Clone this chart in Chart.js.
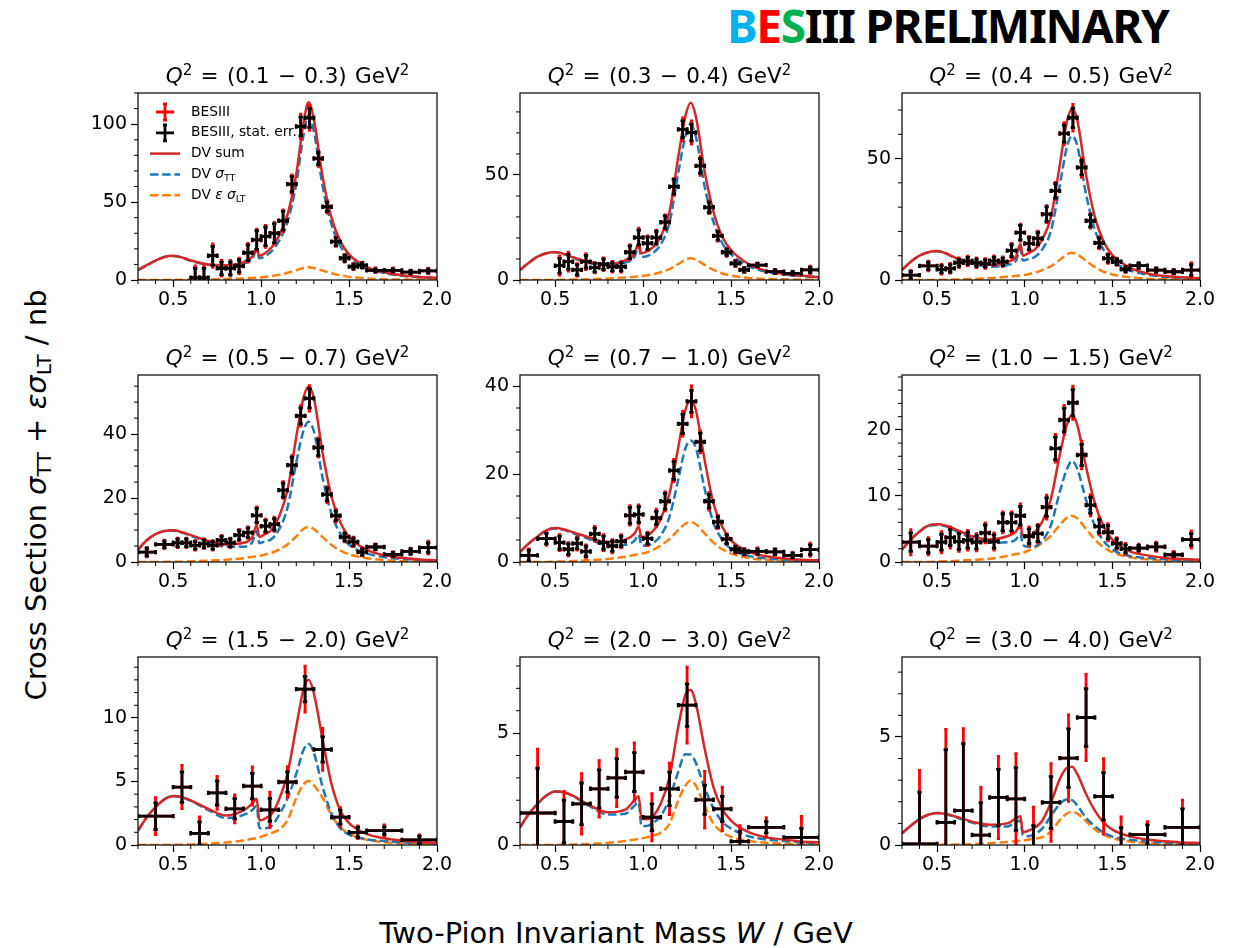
<!DOCTYPE html>
<html>
<head>
<meta charset="utf-8">
<script src="https://cdn.jsdelivr.net/npm/chart.js@4.4.1/dist/chart.umd.min.js"></script>
<style>
  body { margin: 0; background: #fff; width: 1245px; height: 948px; position: relative; overflow: hidden; font-family: 'DejaVu Sans', sans-serif; color: #000; }
  canvas.panel { position: absolute; }
  .ptitle { position: absolute; font-size: 21.5px; word-spacing: 1.5px; line-height: 30px; height: 30px; text-align: center; white-space: nowrap; transform: translateX(-50%); }
  .ptitle sup { font-size: 0.7em; line-height: 0; vertical-align: 0.55em; }
  #logo { position: absolute; left: 727px; top: 0px; font-family: 'Noto Sans', sans-serif; font-weight: bold; font-size: 46px; line-height: 50px; white-space: nowrap; letter-spacing: -1.3px; }
  #ylabel { position: absolute; left: 36px; top: 495px; font-size: 29px; white-space: nowrap; transform: translate(-50%, -50%) rotate(-90deg); }
  #xlabel { position: absolute; left: 616px; top: 933px; font-size: 29px; white-space: nowrap; transform: translate(-50%, -50%); }
  sub { font-size: 0.7em; line-height: 0; vertical-align: -0.25em; }
</style>
</head>
<body>
<div id="logo"><span style="color:#00b0f0">B</span><span style="color:#ff0000">E</span><span style="color:#00b050">S</span>III PRELIMINARY</div>
<div id="ylabel">Cross Section <i>σ</i><sub>TT</sub> + <i>εσ</i><sub>LT</sub> / nb</div>
<div id="xlabel">Two-Pion Invariant Mass <i>W</i> / GeV</div>
<script>
// Q^2 bins (GeV^2), one per panel
const q2Labels = ['0.1 − 0.3', '0.3 − 0.4', '0.4 − 0.5', '0.5 − 0.7', '0.7 − 1.0', '1.0 − 1.5', '1.5 − 2.0', '2.0 − 3.0', '3.0 − 4.0'];

// W bin centres / half widths
const wFine = [0.35, 0.45, 0.525, 0.575, 0.625, 0.675, 0.725, 0.775, 0.825, 0.875, 0.925, 0.975, 1.025, 1.075, 1.125, 1.175, 1.225, 1.275, 1.325, 1.375, 1.425, 1.475, 1.525, 1.575, 1.65, 1.75, 1.85, 1.95];
const hwFine = [0.05, 0.05, 0.025, 0.025, 0.025, 0.025, 0.025, 0.025, 0.025, 0.025, 0.025, 0.025, 0.025, 0.025, 0.025, 0.025, 0.025, 0.025, 0.025, 0.025, 0.025, 0.025, 0.025, 0.025, 0.05, 0.05, 0.05, 0.05];
const wCoarse = [0.4, 0.55, 0.65, 0.75, 0.85, 0.95, 1.05, 1.15, 1.25, 1.35, 1.45, 1.55, 1.7, 1.9];
const hwCoarse = [0.1, 0.05, 0.05, 0.05, 0.05, 0.05, 0.05, 0.05, 0.05, 0.05, 0.05, 0.05, 0.1, 0.1];

// measured cross sections (nb), stat. and total errors
const v1 = [1.5, 1.5, 15.6, 7.5, 7.5, 9, 17.5, 25.7, 28, 30, 38, 61.5, 98.5, 104, 78, 47, 24.6, 14, 8.6, 9.4, 6.2, 6.2, 5.1, 5.8];
const stat1 = [6, 6, 6, 4, 4, 4, 5, 6, 6, 6, 6, 5, 6, 6, 4, 3, 2.5, 2, 1.5, 1.5, 1, 1, 1, 1.2];
const tot1 = [7.5, 7.5, 7.5, 5, 5, 5, 6, 7, 7, 7, 7, 6, 8, 8, 5, 4, 3, 2.5, 2, 2, 1.5, 1.5, 1.3, 1.8];

const v2 = [6.8, 8.7, 4.8, 8.7, 5.9, 7.5, 6.3, 6.3, 13.2, 20.2, 17.5, 20.2, 27.5, 44.4, 71.7, 70.2, 54.3, 34.6, 21, 13.2, 7.9, 4.8, 7.1, 4, 3.2, 4.8];
const stat2 = [3.5, 3.5, 2.5, 3, 2, 2.5, 2, 2, 3, 3.5, 3, 3, 3, 3.5, 4, 4, 3.5, 2.5, 2, 1.5, 1.2, 1, 0.8, 0.8, 0.8, 1.3];
const tot2 = [4.5, 4.5, 3, 3.8, 2.5, 3, 2.5, 2.5, 3.5, 4.5, 3.5, 3.5, 3.5, 4, 5.5, 5.5, 4.5, 3, 2.5, 2, 1.5, 1.2, 1, 1, 1, 1.8];

const v3 = [2.0, 5.8, 4.4, 4.8, 7.1, 7.8, 7.1, 6.8, 7.9, 7.5, 12.1, 19.5, 15, 17.1, 27.1, 36.7, 60.3, 66.8, 46.3, 24.4, 15.3, 8.9, 7.5, 4.4, 5.9, 4.1, 3.4, 4.1];
const stat3 = [1.5, 1.5, 1.5, 1.5, 1.5, 1.5, 1.5, 1.5, 1.5, 1.5, 2.5, 3, 2.5, 2.5, 3, 3, 3.5, 4, 3, 2.5, 2, 1.5, 1.2, 1, 1, 0.8, 0.8, 2.2];
const tot3 = [2, 2, 2, 2, 2, 2, 2, 2, 2, 2, 3, 3.5, 3, 3, 3.5, 3.5, 4.5, 5.5, 4, 3, 2.5, 2, 1.5, 1.2, 1.2, 1, 1, 3];

const v4 = [3.1, 5.5, 6.0, 6.0, 5.2, 5.7, 5.2, 6.8, 6.0, 8.4, 9.2, 14.6, 11.2, 11.8, 22.5, 30.3, 45.7, 51.2, 35.8, 21.1, 14.5, 7.8, 6.3, 3.1, 4.7, 2.4, 3.3, 4.5];
const stat4 = [1.2, 1, 1.2, 1.2, 1.2, 1.2, 1.2, 1.2, 1.2, 1.5, 1.5, 2.2, 1.8, 1.8, 2.2, 2.5, 2.5, 3, 2.5, 2, 1.5, 1.2, 1.2, 1, 0.8, 0.6, 0.8, 1.5];
const tot4 = [1.5, 1.3, 1.5, 1.5, 1.5, 1.5, 1.5, 1.5, 1.5, 1.8, 1.8, 2.6, 2.2, 2.2, 2.6, 3, 3.2, 4, 3, 2.5, 2, 1.5, 1.5, 1.2, 1, 0.8, 1, 2];

const v5 = [1.5, 5.3, 4.4, 2.9, 4.2, 2.4, 6.4, 4.4, 3.6, 4.7, 10.6, 10.8, 5.3, 10, 13.8, 20.8, 31.4, 36.5, 27.3, 13.8, 9.1, 5.2, 2.9, 2.3, 2.4, 2.3, 1.5, 2.8];
const stat5 = [1.2, 1.2, 1.5, 1.2, 1.2, 1.2, 1.3, 1.5, 1.2, 1.2, 1.8, 1.8, 1.2, 1.5, 1.8, 2, 2.2, 2.5, 2, 1.5, 1.2, 1, 0.7, 0.6, 0.6, 0.6, 0.5, 1.1];
const tot5 = [1.5, 1.5, 1.8, 1.5, 1.5, 1.5, 1.7, 1.8, 1.5, 1.5, 2.2, 2.2, 1.5, 2, 2.2, 2.5, 2.8, 3.5, 2.5, 2, 1.5, 1.2, 0.9, 0.8, 0.8, 0.7, 0.7, 1.5];

const v6 = [3.0, 2.4, 3.0, 3.7, 3.1, 3.3, 3.0, 4.4, 3.1, 6.0, 6.0, 7.0, 3.9, 4.3, 8.3, 17.2, 21.5, 24.1, 16.2, 8.6, 5.4, 4.5, 2.8, 2.0, 2.1, 2.3, 1.1, 3.4];
const stat6 = [1.4, 1, 1.2, 1.2, 1.2, 1.2, 1, 1.2, 1, 1.3, 1.3, 1.4, 1.1, 1.2, 1.4, 1.7, 1.8, 2, 1.6, 1.2, 1, 1, 0.7, 0.6, 0.4, 0.5, 0.3, 0.9];
const tot6 = [1.9, 1.3, 1.6, 1.6, 1.5, 1.5, 1.3, 1.5, 1.3, 1.6, 1.6, 1.8, 1.4, 1.4, 1.8, 2.1, 2.2, 2.5, 2.1, 1.6, 1.3, 1.3, 0.9, 0.8, 0.6, 0.7, 0.5, 1.3];

const v7 = [2.27, 4.56, 0.92, 4.1, 2.85, 4.64, 2.77, 4.96, 12.27, 7.52, 2.19, 1.0, 1.13, 0.4];
const stat7 = [1.05, 1.2, 0.9, 0.95, 0.8, 1.0, 0.9, 0.8, 1.0, 1.0, 0.55, 0.4, 0.3, 0.3];
const tot7 = [1.45, 1.7, 1.3, 1.3, 1.1, 1.5, 1.4, 1.2, 1.8, 1.65, 0.75, 0.5, 0.45, 0.4];

const v8 = [1.43, 1.05, 1.84, 2.51, 3.0, 3.26, 1.24, 2.51, 6.25, 2.02, 1.61, 0.16, 0.79, 0.34];
const stat8 = [2.0, 0.95, 0.93, 0.85, 0.86, 0.87, 0.6, 0.75, 0.95, 0.65, 0.56, 0.45, 0.25, 0.4];
const tot8 = [2.85, 1.35, 1.35, 1.26, 1.28, 1.3, 1.05, 1.15, 1.7, 1.27, 0.98, 0.7, 0.43, 0.94];

const v9 = [0.05, 1.05, 1.59, 0.46, 2.20, 2.13, -0.2, 1.97, 4.02, 5.9, 2.25, -0.2, 0.48, 0.82];
const stat9 = [2.4, 3.36, 3.1, 1.5, 1.3, 1.45, 1.1, 1.2, 1.35, 1.34, 1.1, 1.0, 0.45, 0.85];
const tot9 = [3.4, 4.3, 3.8, 2.2, 1.9, 2.1, 1.95, 1.8, 2.0, 2.0, 1.75, 1.5, 0.6, 1.25];

// DV model curves, read at these W values
const curveW = [0.30, 0.35, 0.40, 0.45, 0.50, 0.55, 0.60, 0.70, 0.80, 0.90, 0.95, 0.975, 0.99, 1.02, 1.06, 1.10, 1.15, 1.20, 1.24, 1.27, 1.30, 1.35, 1.40, 1.45, 1.50, 1.60, 1.70, 1.80, 1.90, 2.00];

const sum1 = [6.4, 9.5, 12.5, 14.8, 15.5, 14.5, 12.5, 10.0, 9.5, 11.5, 15.0, 20.5, 15.5, 17.0, 21.0, 28.0, 42, 68, 100, 114, 103, 66, 40, 25, 16.5, 8.5, 5.0, 3.0, 2.0, 1.5];
const tt1 = [6.4, 9.5, 12.5, 14.8, 15.4, 14.4, 12.3, 9.7, 8.9, 10.5, 13.7, 19.0, 13.9, 15.1, 18.5, 24.7, 37.4, 61.7, 92.3, 105.8, 95.3, 60, 35.7, 22, 14.5, 7.5, 4.5, 2.7, 1.8, 1.4];
const lt1 = [0, 0, 0, 0, 0.1, 0.1, 0.2, 0.3, 0.6, 1.0, 1.3, 1.5, 1.6, 1.9, 2.5, 3.3, 4.6, 6.3, 7.7, 8.2, 7.7, 6.0, 4.3, 3.0, 2.0, 1.0, 0.5, 0.3, 0.2, 0.1];

const sum2 = [4.8, 8.2, 11.1, 12.7, 13.3, 12.4, 10.8, 8.3, 7.6, 9.5, 12.4, 17.5, 12.7, 13.5, 15.9, 20.6, 32.5, 58.7, 77.8, 84.4, 77.8, 51.6, 32.5, 20.6, 14.3, 7.6, 4.4, 2.9, 2.1, 1.3];
const tt2 = [4.8, 8.2, 11.1, 12.7, 13.2, 12.3, 10.6, 7.9, 6.9, 8.3, 10.9, 15.8, 10.9, 11.3, 13.1, 16.9, 27.3, 51.1, 68.2, 74.1, 68.2, 44.4, 27.7, 17.5, 12.2, 6.6, 3.9, 2.6, 1.9, 1.2];
const lt2 = [0, 0, 0, 0, 0.1, 0.1, 0.2, 0.4, 0.7, 1.2, 1.5, 1.7, 1.8, 2.2, 2.8, 3.7, 5.2, 7.6, 9.6, 10.3, 9.6, 7.2, 4.8, 3.1, 2.1, 1.0, 0.5, 0.3, 0.2, 0.1];

const sum3 = [4.1, 7.5, 10, 11.4, 11.9, 11, 9.3, 7.1, 6.3, 7.5, 9.6, 14.8, 10, 11, 12.7, 16.7, 26, 47.3, 65, 70.5, 65.8, 43.2, 26, 15.8, 10.3, 5.1, 2.7, 1.6, 1.1, 0.7];
const tt3 = [4.1, 7.5, 10, 11.4, 11.8, 10.9, 9.1, 6.7, 5.5, 6.2, 7.9, 12.9, 8.0, 8.6, 9.6, 12.6, 20.3, 39.0, 54.5, 59.3, 55.3, 35.3, 20.7, 12.4, 8.0, 4.0, 2.2, 1.3, 0.9, 0.6];
const lt3 = [0, 0, 0, 0, 0.1, 0.1, 0.2, 0.4, 0.8, 1.3, 1.7, 1.9, 2.0, 2.4, 3.1, 4.1, 5.7, 8.3, 10.5, 11.2, 10.5, 7.9, 5.3, 3.4, 2.3, 1.1, 0.5, 0.3, 0.2, 0.1];

const sum4 = [3.9, 6.8, 8.7, 9.7, 9.9, 9.3, 8.4, 6.6, 5.5, 6.0, 7.8, 11.5, 7.8, 8.7, 10.1, 13.9, 22.5, 39.2, 51.2, 54.9, 51.2, 34, 20.4, 12.5, 7.8, 3.9, 2.1, 1.3, 0.8, 0.5];
const tt4 = [3.9, 6.8, 8.7, 9.7, 9.8, 9.2, 8.2, 6.2, 4.8, 4.8, 6.2, 9.7, 5.9, 6.4, 7.2, 10.0, 17.0, 31.2, 40.9, 43.9, 40.9, 26.2, 15.1, 8.9, 5.4, 2.7, 1.5, 1.0, 0.6, 0.4];
const lt4 = [0, 0, 0, 0, 0.1, 0.1, 0.2, 0.4, 0.7, 1.2, 1.6, 1.8, 1.9, 2.3, 2.9, 3.9, 5.5, 8.0, 10.3, 11.0, 10.3, 7.8, 5.3, 3.6, 2.4, 1.2, 0.6, 0.3, 0.2, 0.1];

const sum5 = [2.3, 4.2, 5.8, 7.2, 7.7, 7.4, 6.8, 5.5, 4.5, 5.1, 6.4, 8.0, 5.7, 5.9, 7.2, 9.8, 15.5, 26.1, 34.5, 36.7, 34.5, 23.1, 13.3, 8.0, 4.9, 2.3, 1.3, 0.8, 0.5, 0.4];
const tt5 = [2.3, 4.2, 5.8, 7.2, 7.6, 7.3, 6.6, 5.1, 3.8, 3.9, 4.8, 6.2, 3.8, 3.7, 4.4, 6.0, 10.3, 18.8, 25.8, 27.6, 25.9, 16.6, 8.9, 5.1, 3.0, 1.4, 0.8, 0.5, 0.3, 0.3];
const lt5 = [0, 0, 0, 0, 0.1, 0.1, 0.2, 0.4, 0.7, 1.2, 1.6, 1.8, 1.9, 2.2, 2.8, 3.8, 5.2, 7.3, 8.7, 9.1, 8.6, 6.5, 4.4, 2.9, 1.9, 0.9, 0.5, 0.3, 0.2, 0.1];

const sum6 = [1.9, 3.4, 4.6, 5.5, 5.7, 5.5, 5.0, 3.9, 3.4, 3.9, 4.6, 5.6, 4.0, 4.0, 4.6, 6.1, 9.6, 16.2, 20.7, 22.3, 20.7, 14.4, 8.9, 5.4, 3.4, 1.6, 1.0, 0.6, 0.45, 0.35];
const tt6 = [1.9, 3.4, 4.6, 5.5, 5.6, 5.4, 4.8, 3.6, 2.9, 3.0, 3.4, 4.3, 2.6, 2.3, 2.4, 3.2, 5.6, 10.6, 14.0, 15.3, 14.1, 9.4, 5.5, 3.2, 1.9, 0.9, 0.6, 0.4, 0.3, 0.25];
const lt6 = [0, 0, 0, 0, 0.05, 0.1, 0.15, 0.3, 0.5, 0.9, 1.2, 1.3, 1.4, 1.7, 2.2, 2.9, 4.0, 5.6, 6.7, 7.0, 6.6, 5.0, 3.4, 2.2, 1.5, 0.7, 0.4, 0.2, 0.15, 0.1];

const sum7 = [1.13, 2.19, 2.98, 3.59, 3.85, 3.77, 3.51, 2.85, 2.32, 2.72, 3.25, 3.64, 1.93, 2.06, 2.45, 3.51, 5.62, 9.31, 12.2, 13.0, 11.95, 8.26, 4.83, 2.72, 1.72, 0.87, 0.53, 0.34, 0.24, 0.18];
const tt7 = [1.13, 2.19, 2.98, 3.59, 3.84, 3.75, 3.47, 2.75, 2.12, 2.37, 2.75, 3.09, 1.33, 1.31, 1.5, 2.31, 3.67, 5.61, 7.45, 7.96, 7.25, 4.56, 2.48, 1.32, 0.82, 0.45, 0.31, 0.21, 0.16, 0.13];
const lt7 = [0, 0, 0, 0, 0.01, 0.02, 0.04, 0.1, 0.2, 0.35, 0.5, 0.55, 0.6, 0.75, 0.95, 1.2, 1.95, 3.7, 4.75, 5.04, 4.7, 3.7, 2.35, 1.4, 0.9, 0.42, 0.22, 0.13, 0.08, 0.05];

const sum8 = [0.79, 1.39, 1.84, 2.21, 2.39, 2.36, 2.21, 1.76, 1.46, 1.58, 1.99, 2.18, 1.2, 1.15, 1.32, 1.84, 3.03, 5.28, 6.70, 6.92, 6.32, 4.30, 2.59, 1.61, 1.09, 0.57, 0.34, 0.24, 0.16, 0.12];
const tt8 = [0.79, 1.39, 1.84, 2.21, 2.39, 2.35, 2.19, 1.71, 1.36, 1.40, 1.75, 1.91, 0.85, 0.85, 1.0, 1.29, 2.08, 3.28, 4.05, 4.04, 3.67, 2.55, 1.64, 1.04, 0.73, 0.39, 0.24, 0.18, 0.12, 0.09];
const lt8 = [0, 0, 0, 0, 0, 0.01, 0.02, 0.05, 0.1, 0.18, 0.24, 0.27, 0.29, 0.34, 0.42, 0.55, 0.95, 2.0, 2.65, 2.88, 2.65, 1.75, 0.95, 0.57, 0.36, 0.18, 0.1, 0.06, 0.04, 0.03];

const sum9 = [0.54, 0.89, 1.2, 1.4, 1.48, 1.43, 1.33, 1.08, 0.94, 1.0, 1.23, 1.33, 0.59, 0.66, 0.82, 1.12, 1.97, 3.05, 3.56, 3.62, 3.28, 2.36, 1.59, 1.05, 0.71, 0.40, 0.25, 0.17, 0.12, 0.09];
const tt9 = [0.54, 0.89, 1.2, 1.4, 1.48, 1.42, 1.31, 1.04, 0.86, 0.86, 1.05, 1.13, 0.45, 0.41, 0.52, 0.76, 1.34, 1.9, 2.11, 2.08, 1.83, 1.26, 0.87, 0.57, 0.39, 0.24, 0.16, 0.12, 0.09, 0.07];
const lt9 = [0, 0, 0, 0, 0, 0.01, 0.02, 0.04, 0.08, 0.14, 0.18, 0.2, 0.21, 0.25, 0.3, 0.36, 0.63, 1.15, 1.45, 1.54, 1.45, 1.1, 0.72, 0.48, 0.32, 0.16, 0.09, 0.05, 0.03, 0.02];

// axis ticks
const xMajor = [0.5, 1.0, 1.5, 2.0];
const yMax = [120, 89, 77, 58.5, 42.5, 28.3, 14.8, 8.4, 8.7];
const yStep = [50, 50, 50, 20, 20, 10, 5, 5, 5];
const yMinor = [10, 10, 10, 5, 5, 2, 1, 1, 1];

const panels = [
    { w: wFine.slice(4), hw: hwFine.slice(4), v: v1, stat: stat1, tot: tot1, sum: sum1, tt: tt1, lt: lt1 },
    { w: wFine.slice(2), hw: hwFine.slice(2), v: v2, stat: stat2, tot: tot2, sum: sum2, tt: tt2, lt: lt2 },
    { w: wFine, hw: hwFine, v: v3, stat: stat3, tot: tot3, sum: sum3, tt: tt3, lt: lt3 },
    { w: wFine, hw: hwFine, v: v4, stat: stat4, tot: tot4, sum: sum4, tt: tt4, lt: lt4 },
    { w: wFine, hw: hwFine, v: v5, stat: stat5, tot: tot5, sum: sum5, tt: tt5, lt: lt5 },
    { w: wFine, hw: hwFine, v: v6, stat: stat6, tot: tot6, sum: sum6, tt: tt6, lt: lt6 },
    { w: wCoarse, hw: hwCoarse, v: v7, stat: stat7, tot: tot7, sum: sum7, tt: tt7, lt: lt7 },
    { w: wCoarse, hw: hwCoarse, v: v8, stat: stat8, tot: tot8, sum: sum8, tt: tt8, lt: lt8 },
    { w: wCoarse, hw: hwCoarse, v: v9, stat: stat9, tot: tot9, sum: sum9, tt: tt9, lt: lt9 },
];

// plot-area boxes in page pixels
const colLeft = [138, 520, 902];
const colRight = [437, 819, 1200];
const rowTop = [93, 375, 657];
const rowBottom = [280, 562, 845];
const AXW = 70, AXH = 40, PADT = 10, PADR = 25;

const RED = '#d62728', BLUE = '#1f77b4', ORANGE = '#ff7f0e';
const DASH = [8.5, 3.7];

function drawBars(ctx, x, y, pts, key, color, lw, cap) {
    ctx.strokeStyle = color;
    ctx.lineWidth = lw;
    ctx.lineCap = 'butt';
    pts.forEach(p => {
        const px = x.getPixelForValue(p.x);
        const py = y.getPixelForValue(p.y);
        const x0 = x.getPixelForValue(p.x - p.hw);
        const x1 = x.getPixelForValue(p.x + p.hw);
        const yt = y.getPixelForValue(p.y + p[key]);
        const yb = y.getPixelForValue(p.y - p[key]);
        ctx.beginPath();
        ctx.moveTo(x0, py); ctx.lineTo(x1, py);
        ctx.moveTo(px, yt); ctx.lineTo(px, yb);
        // caps
        ctx.moveTo(px - cap, yt); ctx.lineTo(px + cap, yt);
        ctx.moveTo(px - cap, yb); ctx.lineTo(px + cap, yb);
        ctx.moveTo(x0, py - cap); ctx.lineTo(x0, py + cap);
        ctx.moveTo(x1, py - cap); ctx.lineTo(x1, py + cap);
        ctx.stroke();
    });
}

const panelDecor = {
    id: 'panelDecor',
    afterDatasetsDraw(chart) {
        const { ctx, chartArea: a, scales: { x, y } } = chart;
        const opts = chart.options.plugins.panelDecor;
        const pts = chart.data.datasets[0].data;

        ctx.save();
        ctx.beginPath();
        ctx.rect(a.left, a.top, a.right - a.left, a.bottom - a.top);
        ctx.clip();
        drawBars(ctx, x, y, pts, 'tot', '#ff0000', 2.8, 1.6);
        drawBars(ctx, x, y, pts, 'stat', '#000000', 2.8, 2.2);
        ctx.restore();

        ctx.save();
        ctx.strokeStyle = '#000';
        ctx.lineWidth = 1.2;
        ctx.strokeRect(a.left, a.top, a.right - a.left, a.bottom - a.top);
        // minor ticks
        ctx.lineWidth = 1;
        ctx.beginPath();
        for (let k = 3; k <= 20; k++) {
            if (k % 5 === 0) continue;
            const px = x.getPixelForValue(k / 10);
            ctx.moveTo(px, a.bottom); ctx.lineTo(px, a.bottom + 4);
        }
        for (let k = 1; k * opts.minor <= opts.max; k++) {
            const val = k * opts.minor;
            if (Math.abs(val / opts.step - Math.round(val / opts.step)) < 1e-6) continue;
            const py = y.getPixelForValue(val);
            ctx.moveTo(a.left, py); ctx.lineTo(a.left - 4, py);
        }
        ctx.stroke();
        ctx.restore();
    }
};

// legend in the first panel
const legendItems = [
    { kind: 'err', color: '#ff0000', text: 'BESIII' },
    { kind: 'err', color: '#000000', text: 'BESIII, stat. err.' },
    { kind: 'line', color: RED, dash: [], text: 'DV sum' },
    { kind: 'line', color: BLUE, dash: DASH, text: 'DV ', it: 'σ', sub: 'TT' },
    { kind: 'line', color: ORANGE, dash: DASH, text: 'DV ', it: 'ε σ', sub: 'LT' },
];

const panelLegend = {
    id: 'panelLegend',
    afterDraw(chart) {
        const { ctx, chartArea: a } = chart;
        ctx.save();
        ctx.textBaseline = 'middle';
        legendItems.forEach((it, i) => {
            const cy = a.top + 19 + i * 20.8;
            const sx0 = a.left + 12, sx1 = a.left + 42, sxc = a.left + 27;
            ctx.strokeStyle = it.color;
            if (it.kind === 'err') {
                ctx.lineWidth = 2.8;
                ctx.setLineDash([]);
                ctx.beginPath();
                ctx.moveTo(sx0 + 6, cy); ctx.lineTo(sx1 - 6, cy);
                ctx.moveTo(sxc, cy - 8); ctx.lineTo(sxc, cy + 8);
                ctx.moveTo(sxc - 2, cy - 8); ctx.lineTo(sxc + 2, cy - 8);
                ctx.moveTo(sxc - 2, cy + 8); ctx.lineTo(sxc + 2, cy + 8);
                ctx.stroke();
            } else {
                ctx.lineWidth = 2.5;
                ctx.setLineDash(it.dash);
                ctx.beginPath();
                ctx.moveTo(sx0, cy); ctx.lineTo(sx1, cy);
                ctx.stroke();
                ctx.setLineDash([]);
            }
            ctx.fillStyle = '#000';
            let tx = a.left + 53;
            ctx.font = '13.8px "DejaVu Sans"';
            ctx.fillText(it.text, tx, cy);
            tx += ctx.measureText(it.text).width;
            if (it.it) {
                ctx.font = 'italic 13.8px "DejaVu Sans"';
                ctx.fillText(it.it, tx, cy);
                tx += ctx.measureText(it.it).width;
                ctx.font = '9.5px "DejaVu Sans"';
                ctx.fillText(it.sub, tx, cy + 4);
            }
        });
        ctx.restore();
    }
};

function makePanel(i) {
    const p = panels[i];
    const col = i % 3, row = Math.floor(i / 3);
    const L = colLeft[col], R = colRight[col], T = rowTop[row], B = rowBottom[row];

    const cv = document.createElement('canvas');
    cv.className = 'panel';
    cv.width = (R - L) + AXW + PADR;
    cv.height = (B - T) + PADT + AXH;
    cv.style.left = (L - AXW) + 'px';
    cv.style.top = (T - PADT) + 'px';
    document.body.appendChild(cv);

    const title = document.createElement('div');
    title.className = 'ptitle';
    title.style.left = ((L + R) / 2) + 'px';
    title.style.top = (T - 32) + 'px';
    title.innerHTML = '<i>Q</i><sup>2</sup> = (' + q2Labels[i] + ') GeV<sup>2</sup>';
    document.body.appendChild(title);

    const curve = arr => curveW.map((w, k) => ({ x: w, y: arr[k] }));
    const lineDs = (label, arr, color, dash, order) => ({
        type: 'line', label, data: curve(arr), borderColor: color, borderWidth: 2.5,
        borderDash: dash, pointRadius: 0, fill: false, cubicInterpolationMode: 'monotone', order
    });

    const yTicks = [];
    for (let k = 0; k * yStep[i] <= yMax[i]; k++) yTicks.push({ value: k * yStep[i] });

    new Chart(cv.getContext('2d'), {
        type: 'line',
        data: {
            datasets: [
                {
                    type: 'scatter', label: 'BESIII',
                    data: p.w.map((w, k) => ({ x: w, y: p.v[k], hw: p.hw[k], stat: p.stat[k], tot: p.tot[k] })),
                    pointRadius: 0, showLine: false, order: 0
                },
                lineDs('DV sum', p.sum, RED, [], 1),
                lineDs('DV TT', p.tt, BLUE, DASH, 2),
                lineDs('DV LT', p.lt, ORANGE, DASH, 3),
            ]
        },
        options: {
            responsive: false,
            animation: false,
            devicePixelRatio: 1,
            layout: { padding: { left: 0, top: PADT, right: PADR, bottom: 0 } },
            plugins: {
                legend: { display: false },
                tooltip: { enabled: false },
                panelDecor: { max: yMax[i], step: yStep[i], minor: yMinor[i] }
            },
            scales: {
                x: {
                    type: 'linear', min: 0.3, max: 2.0,
                    afterBuildTicks: s => { s.ticks = xMajor.map(v => ({ value: v })); },
                    afterFit: s => { s.height = AXH; s.paddingLeft = 0; s.paddingRight = 0; },
                    ticks: { color: '#000', font: { family: 'DejaVu Sans', size: 19 }, padding: 2, maxRotation: 0, autoSkip: false, callback: v => v.toFixed(1) },
                    grid: { drawOnChartArea: false, drawTicks: true, tickLength: 7, tickColor: '#000', tickWidth: 1.2 },
                    border: { display: false }
                },
                y: {
                    type: 'linear', min: 0, max: yMax[i],
                    afterBuildTicks: s => { s.ticks = yTicks; },
                    afterFit: s => { s.width = AXW; s.paddingTop = 0; s.paddingBottom = 0; },
                    ticks: { color: '#000', font: { family: 'DejaVu Sans', size: 19 }, padding: 4, autoSkip: false, callback: v => String(v) },
                    grid: { drawOnChartArea: false, drawTicks: true, tickLength: 7, tickColor: '#000', tickWidth: 1.2 },
                    border: { display: false }
                }
            }
        },
        plugins: i === 0 ? [panelDecor, panelLegend] : [panelDecor]
    });
}

for (let i = 0; i < 9; i++) makePanel(i);
</script>
</body>
</html>
